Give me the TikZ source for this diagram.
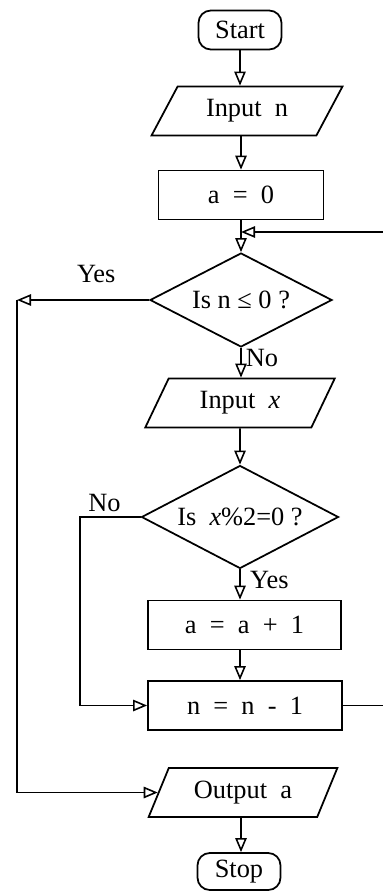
\documentclass[tikz,border=0pt]{standalone}
\usepackage{fontspec}
\setmainfont{Liberation Serif}
\usepackage{tikz}
\usetikzlibrary{arrows.meta,positioning,shapes.geometric,calc}

\begin{document}
\begin{tikzpicture}[>={Triangle[open,length=8pt,width=6.5pt]},
  every node/.style={font=\fontsize{15}{18}\selectfont},
  term/.style={draw,line width=1pt,rounded corners=7pt,minimum width=1.66cm,minimum height=0.78cm,inner sep=0pt},
  proc/.style={draw,line width=1pt,minimum width=3.3cm,minimum height=0.98cm,inner sep=0pt},
  io/.style={draw,line width=1pt,trapezium,trapezium left angle=60,trapezium right angle=120,
    trapezium stretches=true,minimum width=3.8cm,minimum height=0.98cm,inner sep=0pt},
  test/.style={draw,line width=1pt,diamond,aspect=2,inner sep=0pt},
  flow/.style={->,line width=0.9pt}]
  \useasboundingbox (0,0) rectangle (7.64,-17.84);

  \node[term] (start) at (4.80,-0.60) {Start};
  \node[io,trapezium left angle=56,trapezium right angle=124,minimum width=3.84cm] (inn) at (4.94,-2.22) {Input~~n};
  \node[proc] (a0) at (4.82,-3.90) {a~~=~~0};
  \node[test,minimum width=3.64cm,minimum height=1.88cm] (d1) at (4.82,-6.00) {Is n ≤ 0 ?};
  \node[io] (inx) at (4.80,-8.06) {Input~~\textit{x}};
  \node[test,minimum width=3.94cm,minimum height=2.06cm] (d2) at (4.80,-10.34) {Is~~\textit{x}\%2=0 ?};
  \node[proc,minimum width=3.86cm] (inc) at (4.89,-12.50) {a~~=~~a~~+~~1};
  \node[proc,minimum width=3.88cm] (dec) at (4.90,-14.11) {n~~=~~n~~-~~1};
  \node[io] (out) at (4.86,-15.85) {Output~~a};
  \node[term,minimum height=0.74cm] (stop) at (4.78,-17.43) {Stop};

  \coordinate (loop) at (4.82,-4.64);
  \coordinate (rgt) at (7.90,-4.64);
  \coordinate (yes) at (0.34,-6.00);
  \coordinate (no) at (1.60,-10.34);

  \draw[flow](start)--(start|-inn.north);
  \draw[flow](a0|-inn.south)--(a0);
  \draw[flow](a0)--(d1);
  \draw[flow](d1)--(d1|-inx.north) node[pos=0.35,right=-1pt]{No};
  \draw[flow](inx)--(d2);
  \draw[flow](d2.south)--(d2.south|-inc.north) node[pos=0.35,right=2pt]{Yes};
  \draw[flow](d2.south|-inc.south)--(d2.south|-dec.north);
  \draw[flow](d1.south|-out.south)--(d1.south|-stop.north);

  % loop back from n = n - 1
  \draw[flow](dec.east)-|(rgt)--(loop);
  % yes branch to the output
  \draw[flow](d1.west)--(yes) node[pos=0.4,above=6pt]{Yes};
  \draw[flow](yes)|-(out);
  % no branch to n = n - 1
  \draw[flow](d2.west)--(no) node[above right=-1pt and 1pt]{No} |-(dec);
\end{tikzpicture}
\end{document}
